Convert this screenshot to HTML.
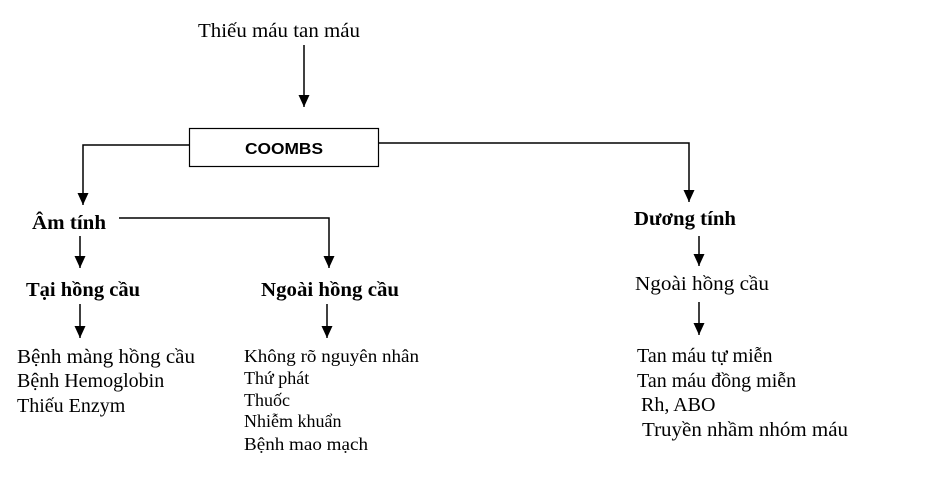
<!DOCTYPE html>
<html><head><meta charset="utf-8"><style>
html,body{margin:0;padding:0;background:#fff;}
svg{display:block}
text{font-family:"Liberation Serif",serif;fill:#000;}
.b{font-weight:bold}
</style></head><body>
<svg width="941" height="491" viewBox="0 0 941 491" xmlns="http://www.w3.org/2000/svg">
<defs><marker id="a" markerWidth="14" markerHeight="14" refX="12" refY="5.5" orient="auto" markerUnits="userSpaceOnUse"><path d="M0,0 L12,5.5 L0,11 Z" fill="#000"/></marker></defs>
<g stroke="#000" stroke-width="1.5" fill="none">
<line x1="304" y1="45" x2="304" y2="107" marker-end="url(#a)"/>
<rect x="189.5" y="128.5" width="189" height="38" stroke-width="1.2"/>
<polyline points="189,145 83,145 83,205" marker-end="url(#a)"/>
<polyline points="378,143 689,143 689,202" marker-end="url(#a)"/>
<polyline points="119,218 329,218 329,268" marker-end="url(#a)"/>
<line x1="80" y1="236" x2="80" y2="268" marker-end="url(#a)"/>
<line x1="80" y1="304" x2="80" y2="338" marker-end="url(#a)"/>
<line x1="327" y1="304" x2="327" y2="338" marker-end="url(#a)"/>
<line x1="699" y1="236" x2="699" y2="266" marker-end="url(#a)"/>
<line x1="699" y1="302" x2="699" y2="335" marker-end="url(#a)"/>
</g>
<text x="198" y="37" font-size="20" textLength="162" lengthAdjust="spacingAndGlyphs">Thiếu máu tan máu</text>
<text x="245" y="154" font-size="16" class="b" textLength="78" lengthAdjust="spacingAndGlyphs" style="font-family:'Liberation Sans',sans-serif">COOMBS</text>
<text x="32" y="229" font-size="20" class="b" textLength="74" lengthAdjust="spacingAndGlyphs">Âm tính</text>
<text x="26" y="296" font-size="20" class="b" textLength="114" lengthAdjust="spacingAndGlyphs">Tại hồng cầu</text>
<text x="261" y="296" font-size="20" class="b" textLength="138" lengthAdjust="spacingAndGlyphs">Ngoài hồng cầu</text>
<text x="634" y="225" font-size="20" class="b" textLength="102" lengthAdjust="spacingAndGlyphs">Dương tính</text>
<text x="635" y="290" font-size="20" textLength="134" lengthAdjust="spacingAndGlyphs">Ngoài hồng cầu</text>
<g font-size="20">
<text x="17" y="363" textLength="178" lengthAdjust="spacingAndGlyphs">Bệnh màng hồng cầu</text>
<text x="17" y="387">Bệnh Hemoglobin</text>
<text x="17" y="412">Thiếu Enzym</text>
</g>
<g font-size="18">
<text x="244" y="362" textLength="175" lengthAdjust="spacingAndGlyphs">Không rõ nguyên nhân</text>
<text x="244" y="384">Thứ phát</text>
<text x="244" y="406">Thuốc</text>
<text x="244" y="427">Nhiễm khuẩn</text>
<text x="244" y="450" textLength="124" lengthAdjust="spacingAndGlyphs">Bệnh mao mạch</text>
</g>
<g font-size="20">
<text x="637" y="362">Tan máu tự miễn</text>
<text x="637" y="387">Tan máu đồng miễn</text>
<text x="641" y="411">Rh, ABO</text>
<text x="642" y="436" textLength="206" lengthAdjust="spacingAndGlyphs">Truyền nhầm nhóm máu</text>
</g>
</svg>
</body></html>
